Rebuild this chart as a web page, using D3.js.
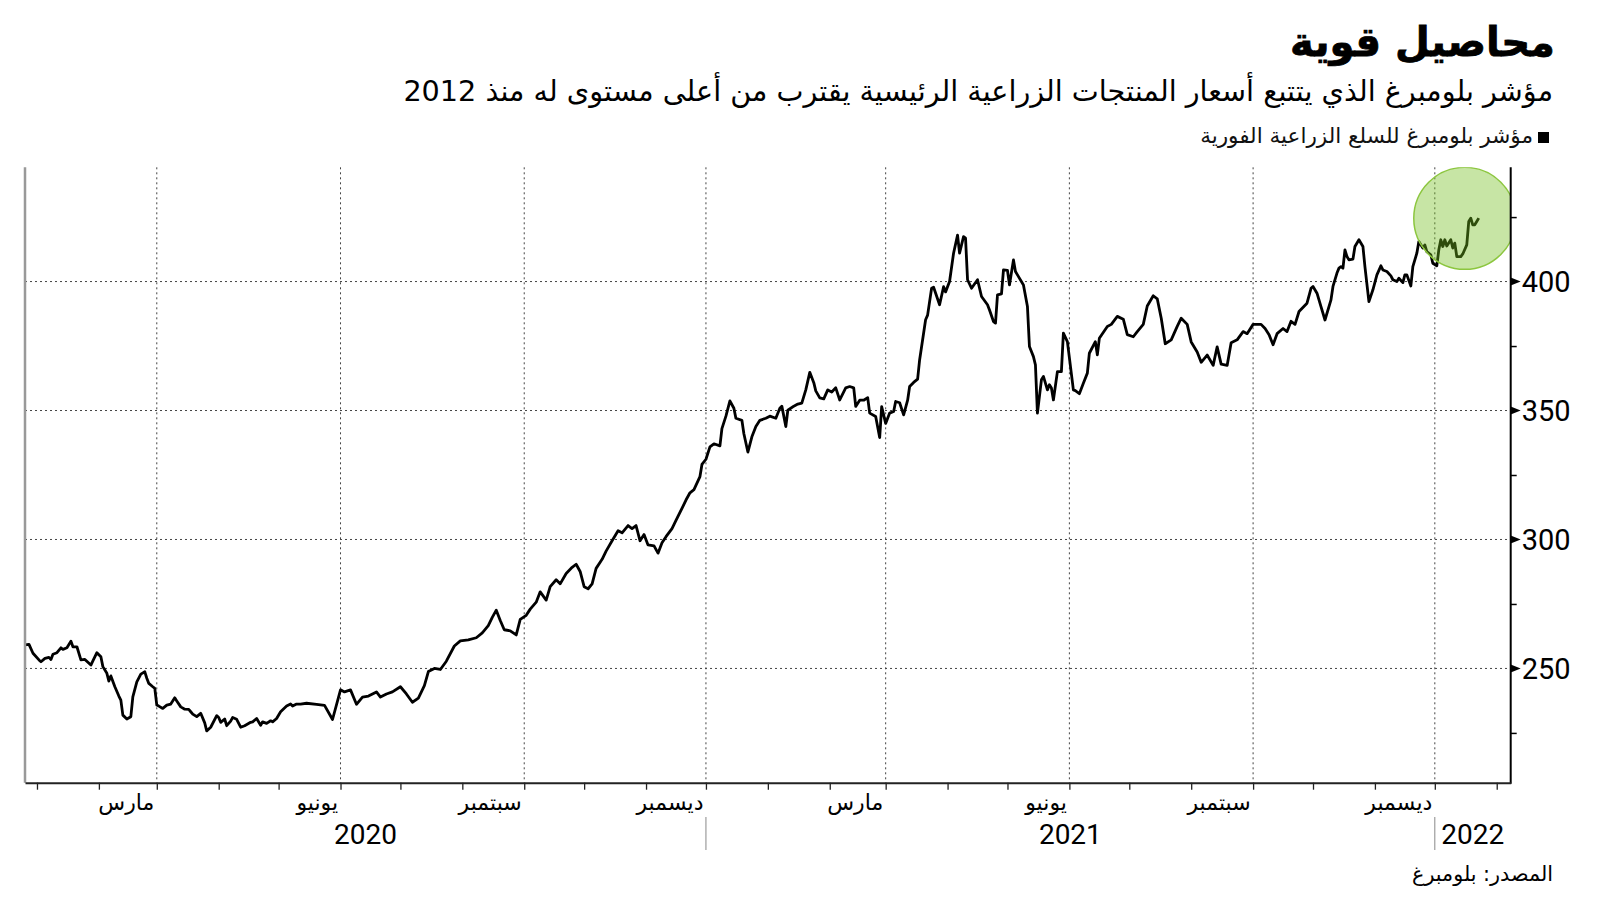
<!DOCTYPE html>
<html>
<head>
<meta charset="utf-8">
<script src="https://cdn.jsdelivr.net/npm/d3@7"></script>
<style>
  body { margin: 0; background: #fff; }
</style>
</head>
<body>
<div id="root"></div>
<script>
// Bloomberg agriculture spot index
var dates = [
  '2019-12-26','2019-12-28','2019-12-30','2020-01-02','2020-01-03','2020-01-05','2020-01-07','2020-01-08','2020-01-09','2020-01-11',
  '2020-01-13','2020-01-14','2020-01-16','2020-01-18','2020-01-19','2020-01-21','2020-01-23','2020-01-25','2020-01-28','2020-01-29',
  '2020-01-31','2020-02-02','2020-02-03','2020-02-05','2020-02-06','2020-02-07','2020-02-09','2020-02-11','2020-02-12','2020-02-13',
  '2020-02-15','2020-02-17','2020-02-18','2020-02-20','2020-02-22','2020-02-24','2020-02-25','2020-02-26','2020-02-28','2020-02-29',
  '2020-03-01','2020-03-02','2020-03-04','2020-03-06','2020-03-08','2020-03-10','2020-03-11','2020-03-13','2020-03-15','2020-03-17',
  '2020-03-18','2020-03-19','2020-03-21','2020-03-23','2020-03-25','2020-03-26','2020-03-28','2020-03-31','2020-04-01','2020-04-02',
  '2020-04-04','2020-04-05','2020-04-07','2020-04-08','2020-04-10','2020-04-12','2020-04-14','2020-04-17','2020-04-18','2020-04-20',
  '2020-04-22','2020-04-23','2020-04-25','2020-04-27','2020-04-28','2020-04-30','2020-05-02','2020-05-05','2020-05-07','2020-05-08',
  '2020-05-10','2020-05-12','2020-05-15','2020-05-20','2020-05-24','2020-05-28','2020-06-01','2020-06-03','2020-06-06','2020-06-09',
  '2020-06-12','2020-06-15','2020-06-19','2020-06-21','2020-06-24','2020-06-27','2020-07-01','2020-07-04','2020-07-07','2020-07-10',
  '2020-07-13','2020-07-15','2020-07-18','2020-07-21','2020-07-24','2020-07-28','2020-07-31','2020-08-04','2020-08-08','2020-08-11',
  '2020-08-14','2020-08-16','2020-08-18','2020-08-20','2020-08-22','2020-08-25','2020-08-28','2020-08-30','2020-09-02','2020-09-04',
  '2020-09-07','2020-09-09','2020-09-12','2020-09-14','2020-09-17','2020-09-19','2020-09-22','2020-09-25','2020-09-27','2020-09-29',
  '2020-10-01','2020-10-03','2020-10-05','2020-10-07','2020-10-10','2020-10-12','2020-10-15','2020-10-18','2020-10-20','2020-10-23',
  '2020-10-25','2020-10-27','2020-10-29','2020-10-31','2020-11-02','2020-11-05','2020-11-07','2020-11-09','2020-11-11','2020-11-14',
  '2020-11-16','2020-11-19','2020-11-21','2020-11-23','2020-11-25','2020-11-28','2020-11-29','2020-12-01','2020-12-03','2020-12-05',
  '2020-12-08','2020-12-09','2020-12-11','2020-12-13','2020-12-15','2020-12-16','2020-12-19','2020-12-20','2020-12-22','2020-12-24',
  '2020-12-26','2020-12-28','2020-12-31','2021-01-02','2021-01-05','2021-01-07','2021-01-08','2021-01-10','2021-01-11','2021-01-14',
  '2021-01-16','2021-01-18','2021-01-20','2021-01-22','2021-01-24','2021-01-25','2021-01-27','2021-01-29','2021-01-31','2021-02-02',
  '2021-02-04','2021-02-06','2021-02-09','2021-02-11','2021-02-13','2021-02-14','2021-02-16','2021-02-18','2021-02-20','2021-02-21',
  '2021-02-24','2021-02-26','2021-02-27','2021-03-01','2021-03-03','2021-03-05','2021-03-06','2021-03-08','2021-03-10','2021-03-12',
  '2021-03-13','2021-03-15','2021-03-17','2021-03-18','2021-03-21','2021-03-22','2021-03-24','2021-03-25','2021-03-28','2021-03-30',
  '2021-03-31','2021-04-02','2021-04-04','2021-04-06','2021-04-07','2021-04-09','2021-04-10','2021-04-11','2021-04-13','2021-04-16',
  '2021-04-18','2021-04-21','2021-04-22','2021-04-24','2021-04-25','2021-04-26','2021-04-28','2021-04-29','2021-05-01','2021-05-02',
  '2021-05-04','2021-05-05','2021-05-06','2021-05-09','2021-05-11','2021-05-12','2021-05-14','2021-05-15','2021-05-16','2021-05-18',
  '2021-05-19','2021-05-21','2021-05-22','2021-05-23','2021-05-24','2021-05-26','2021-05-28','2021-05-29','2021-05-31','2021-06-03',
  '2021-06-04','2021-06-06','2021-06-08','2021-06-10','2021-06-11','2021-06-14','2021-06-15','2021-06-16','2021-06-20','2021-06-22',
  '2021-06-25','2021-06-28','2021-06-30','2021-07-03','2021-07-05','2021-07-08','2021-07-10','2021-07-13','2021-07-15','2021-07-17',
  '2021-07-19','2021-07-22','2021-07-25','2021-07-27','2021-07-30','2021-08-01','2021-08-04','2021-08-06','2021-08-09','2021-08-12',
  '2021-08-14','2021-08-16','2021-08-19','2021-08-21','2021-08-24','2021-08-27','2021-08-29','2021-09-01','2021-09-05','2021-09-07',
  '2021-09-09','2021-09-11','2021-09-13','2021-09-16','2021-09-18','2021-09-20','2021-09-22','2021-09-24','2021-09-28','2021-09-30',
  '2021-10-01','2021-10-03','2021-10-05','2021-10-07','2021-10-10','2021-10-11','2021-10-13','2021-10-14','2021-10-15','2021-10-16',
  '2021-10-17','2021-10-18','2021-10-19','2021-10-21','2021-10-22','2021-10-24','2021-10-26','2021-10-27','2021-10-29','2021-10-31',
  '2021-11-02','2021-11-04','2021-11-05','2021-11-07','2021-11-09','2021-11-10','2021-11-12','2021-11-13','2021-11-15','2021-11-16',
  '2021-11-17','2021-11-19','2021-11-20','2021-11-22','2021-11-23','2021-11-25','2021-11-26','2021-11-27','2021-11-29','2021-11-30',
  '2021-12-02','2021-12-03','2021-12-04','2021-12-05','2021-12-06','2021-12-07','2021-12-09','2021-12-10','2021-12-11','2021-12-12',
  '2021-12-14','2021-12-15','2021-12-17','2021-12-18','2021-12-19','2021-12-20','2021-12-21','2021-12-22','2021-12-23'
];

var values = [
  259.1,259.3,255.9,253.3,252.6,253.9,254.3,253.5,255.5,256.1,
  258.0,257.4,258.0,260.6,258.4,258.4,253.3,253.5,251.3,252.9,
  256.1,254.5,250.7,248.1,245.1,247.1,242.9,239.3,237.7,231.9,
  230.4,231.3,239.0,244.8,247.8,248.7,246.2,244.2,242.9,242.3,
  235.8,235.4,234.5,235.8,236.2,238.6,237.4,235.1,234.2,234.1,
  233.2,232.3,231.3,232.6,228.9,225.8,227.2,231.7,231.0,229.1,
  230.4,227.8,229.6,231.0,230.3,227.2,227.8,229.1,229.3,230.6,
  228.0,229.3,228.7,229.7,229.3,230.6,233.2,235.4,236.2,235.4,
  236.2,236.2,236.5,236.1,235.7,230.2,241.7,240.9,241.7,236.1,
  238.9,239.3,240.9,238.9,240.1,240.9,242.9,240.1,236.9,238.5,
  243.3,248.8,250.0,249.6,252.8,258.7,260.7,261.1,261.9,263.8,
  266.6,269.8,272.6,268.6,265.0,264.6,263.0,269.0,270.6,273.0,
  275.7,279.7,276.5,281.7,284.4,282.8,286.8,289.2,290.4,287.6,
  281.7,280.9,282.8,288.8,292.3,295.5,299.5,303.4,302.6,305.4,
  304.2,305.4,299.5,301.9,297.9,297.5,294.7,298.7,301.1,304.2,
  307.4,312.1,315.3,318.1,319.3,324.4,329.1,331.1,335.9,337.1,
  336.3,343.0,347.8,353.7,350.9,347.0,346.2,341.0,333.9,339.8,
  343.8,346.2,347.0,347.8,347.0,350.9,351.7,343.8,350.1,351.7,
  352.5,352.9,358.0,364.8,360.8,357.6,354.9,354.5,358.0,357.2,
  358.8,354.1,358.8,359.3,358.8,351.6,354.0,354.0,355.0,349.0,
  347.7,339.5,351.5,345.0,349.0,349.6,353.5,353.0,348.3,354.0,
  359.3,360.9,362.2,369.6,385.2,387.0,397.4,397.8,391.0,398.0,
  396.0,400.0,411.0,418.0,411.0,417.4,416.8,400.7,397.4,400.7,
  394.2,391.0,389.0,384.5,383.9,394.8,395.2,404.5,404.3,398.7,
  408.4,403.9,402.6,398.7,390.3,374.8,370.9,367.7,349.0,361.9,
  363.2,358.0,360.0,358.7,354.1,365.1,365.1,380.0,376.7,358.0,
  357.7,356.5,360.6,364.5,372.2,376.7,371.6,378.0,382.6,383.4,
  386.5,385.4,379.4,378.6,380.6,383.4,390.5,394.5,393.3,385.8,
  375.9,377.4,382.6,385.8,383.4,376.6,372.7,368.7,371.5,367.5,
  374.7,368.0,367.5,376.3,377.4,380.6,379.8,383.4,383.4,381.8,
  379.4,375.5,379.8,381.8,380.6,384.6,383.4,388.4,391.6,397.4,
  398.1,395.5,390.3,385.1,392.9,398.1,403.3,405.2,405.8,405.2,
  412.3,409.7,408.4,408.7,413.6,416.2,413.6,405.8,392.2,396.8,
  402.6,406.1,404.5,403.9,402.2,400.7,400.0,401.3,399.6,402.6,
  402.6,398.3,405.8,411.0,415.5,413.0,414.2,411.6,410.4,407.1,
  406.1,412.3,416.2,413.6,416.2,413.8,416.2,413.0,414.9,409.7,
  409.7,410.7,414.2,423.3,424.6,422.0,422.0,423.3,424.6
];

var xDomain = ['2019-12-26', '2022-01-08'];
var yDomain = [205.7, 444.3];
var yLabelTicks = [250, 300, 350, 400];
var yAllTicks = [225, 250, 275, 300, 325, 350, 375, 400, 425];
var monthLabels = { 2: 'مارس', 5: 'يونيو', 8: 'سبتمبر', 11: 'ديسمبر' };
var yearBreaks = ['2020-12-01', '2021-12-01'];
var yearLabels = ['2020', '2021', '2022'];
var highlight = { date: '2021-12-16', value: 424.5 };

var title = 'محاصيل قوية';
var subtitle = 'مؤشر بلومبرغ الذي يتتبع أسعار المنتجات الزراعية الرئيسية يقترب من أعلى مستوى له منذ 2012';
var legendLabel = 'مؤشر بلومبرغ للسلع الزراعية الفورية';
var source = 'المصدر: بلومبرغ';

var W = 1600, H = 901;
var plotL = 25, plotR = 1510.7, plotT = 167.3, plotB = 782.7;
var arFont = '"DejaVu Sans", sans-serif';
var numFont = 'Roboto, "Noto Sans", sans-serif';

var parse = d3.timeParse('%Y-%m-%d');
var data = dates.map(function (d, i) {
  return { date: parse(d), value: values[i] };
});

var x = d3.scaleTime()
  .domain(xDomain.map(parse))
  .range([plotL, plotR]);

var y = d3.scaleLinear()
  .domain(yDomain)
  .range([plotB, plotT]);

var svg = d3.select('#root')
  .append('svg')
    .attr('width', W)
    .attr('height', H);

// shrink or grow a text so it spans a given width
function fitWidth(t, w) {
  var cur = t.node().getComputedTextLength();
  var fs = parseFloat(t.attr('font-size'));
  t.attr('font-size', fs * w / cur);
}

// header
var tTitle = svg.append('text')
    .attr('x', 1555).attr('y', 56)
    .attr('direction', 'rtl').attr('text-anchor', 'start')
    .attr('font-family', arFont).attr('font-weight', 'bold')
    .attr('font-size', 40).attr('fill', '#000')
    .attr('stroke', '#000').attr('stroke-width', 0.8)
    .text(title);
fitWidth(tTitle, 265);

var tSub = svg.append('text')
    .attr('x', 1553).attr('y', 101)
    .attr('direction', 'rtl').attr('text-anchor', 'start')
    .attr('font-family', arFont)
    .attr('font-size', 26).attr('fill', '#000')
    .text(subtitle);
fitWidth(tSub, 1150);

svg.append('rect')
    .attr('x', 1538).attr('y', 132)
    .attr('width', 11).attr('height', 11)
    .attr('fill', '#000');

var tLeg = svg.append('text')
    .attr('x', 1533).attr('y', 143)
    .attr('direction', 'rtl').attr('text-anchor', 'start')
    .attr('font-family', arFont)
    .attr('font-size', 18).attr('fill', '#111')
    .text(legendLabel);
fitWidth(tLeg, 333);

// grid
var quarterMonths = x.ticks(d3.timeMonth.every(1)).filter(function (d) {
  return d.getMonth() % 3 === 2;
});

svg.append('g').selectAll('line')
    .data(yLabelTicks)
  .enter().append('line')
    .attr('x1', plotL).attr('x2', plotR)
    .attr('y1', function (d) { return y(d); })
    .attr('y2', function (d) { return y(d); })
    .attr('stroke', '#444')
    .attr('stroke-width', 1)
    .attr('stroke-dasharray', '2,3');

svg.append('g').selectAll('line')
    .data(quarterMonths)
  .enter().append('line')
    .attr('x1', function (d) { return x(d); })
    .attr('x2', function (d) { return x(d); })
    .attr('y1', plotT).attr('y2', plotB)
    .attr('stroke', '#444')
    .attr('stroke-width', 1)
    .attr('stroke-dasharray', '2,3');

// series
var line = d3.line()
  .x(function (d) { return x(d.date); })
  .y(function (d) { return y(d.value); });

svg.append('path')
    .datum(data)
    .attr('d', line)
    .attr('fill', 'none')
    .attr('stroke', '#000')
    .attr('stroke-width', 2.8)
    .attr('stroke-linejoin', 'round');

// highlight circle, clipped to the plot
svg.append('clipPath')
    .attr('id', 'plot-clip')
  .append('rect')
    .attr('x', plotL).attr('y', plotT)
    .attr('width', plotR - plotL).attr('height', plotB - plotT);

svg.append('circle')
    .attr('clip-path', 'url(#plot-clip)')
    .attr('cx', x(parse(highlight.date)))
    .attr('cy', y(highlight.value))
    .attr('r', 51)
    .attr('fill', 'rgb(115,190,30)')
    .attr('fill-opacity', 0.4)
    .attr('stroke', '#8cc63f')
    .attr('stroke-width', 1.5);

// axis lines
svg.append('line')
    .attr('x1', plotL).attr('x2', plotL)
    .attr('y1', plotT).attr('y2', plotB)
    .attr('stroke', '#999').attr('stroke-width', 2.5);

svg.append('line')
    .attr('x1', plotR).attr('x2', plotR)
    .attr('y1', plotT).attr('y2', plotB + 1)
    .attr('stroke', '#000').attr('stroke-width', 2);

// x axis
var xAxis = d3.axisBottom(x)
  .ticks(d3.timeMonth.every(1))
  .tickSize(7)
  .tickSizeOuter(0)
  .tickFormat(function (d) { return monthLabels[d.getMonth()] || ''; });

var gx = svg.append('g')
    .attr('transform', 'translate(0,' + plotB + ')')
    .call(xAxis);

gx.select('.domain').attr('stroke', '#222').attr('stroke-width', 2);
gx.selectAll('.tick line').attr('stroke', '#222').attr('stroke-width', 1.3);
gx.selectAll('.tick text')
    .attr('direction', 'rtl')
    .attr('text-anchor', 'start')
    .attr('x', -3)
    .attr('y', 27)
    .attr('dy', 0)
    .attr('font-family', arFont)
    .attr('font-size', 22)
    .attr('fill', '#000');

// year labels and separators
var yearEdges = [x.domain()[0]].concat(yearBreaks.map(parse), [x.domain()[1]]);

svg.append('g').selectAll('line')
    .data(yearBreaks)
  .enter().append('line')
    .attr('x1', function (d) { return x(parse(d)); })
    .attr('x2', function (d) { return x(parse(d)); })
    .attr('y1', 817).attr('y2', 850)
    .attr('stroke', '#888').attr('stroke-width', 1);

svg.append('g').selectAll('text')
    .data(yearLabels)
  .enter().append('text')
    .attr('x', function (d, i) { return (x(yearEdges[i]) + x(yearEdges[i + 1])) / 2; })
    .attr('y', 844)
    .attr('text-anchor', 'middle')
    .attr('font-family', numFont)
    .attr('font-size', 28)
    .attr('fill', '#000')
    .text(function (d) { return d; });

// y axis on the right
var yAxis = d3.axisRight(y)
  .tickValues(yAllTicks)
  .tickSize(6)
  .tickFormat('');

var gy = svg.append('g')
    .attr('transform', 'translate(' + plotR + ',0)')
    .call(yAxis);

gy.select('.domain').remove();
gy.selectAll('.tick line').attr('stroke', '#000').attr('stroke-width', 1.5);

svg.append('g').selectAll('path')
    .data(yLabelTicks)
  .enter().append('path')
    .attr('d', function (d) {
      var yy = y(d);
      return 'M' + plotR + ',' + (yy - 4) + 'L' + (plotR + 10) + ',' + yy + 'L' + plotR + ',' + (yy + 4) + 'Z';
    })
    .attr('fill', '#000');

svg.append('g').selectAll('text')
    .data(yLabelTicks)
  .enter().append('text')
    .attr('x', plotR + 11)
    .attr('y', function (d) { return y(d); })
    .attr('dy', '0.36em')
    .attr('font-family', numFont)
    .attr('font-size', 29)
    .attr('fill', '#000')
    .text(function (d) { return d; });

// source
var tSrc = svg.append('text')
    .attr('x', 1553).attr('y', 881)
    .attr('direction', 'rtl').attr('text-anchor', 'start')
    .attr('font-family', arFont)
    .attr('font-size', 20).attr('fill', '#000')
    .text(source);
fitWidth(tSrc, 141);
</script>
</body>
</html>
